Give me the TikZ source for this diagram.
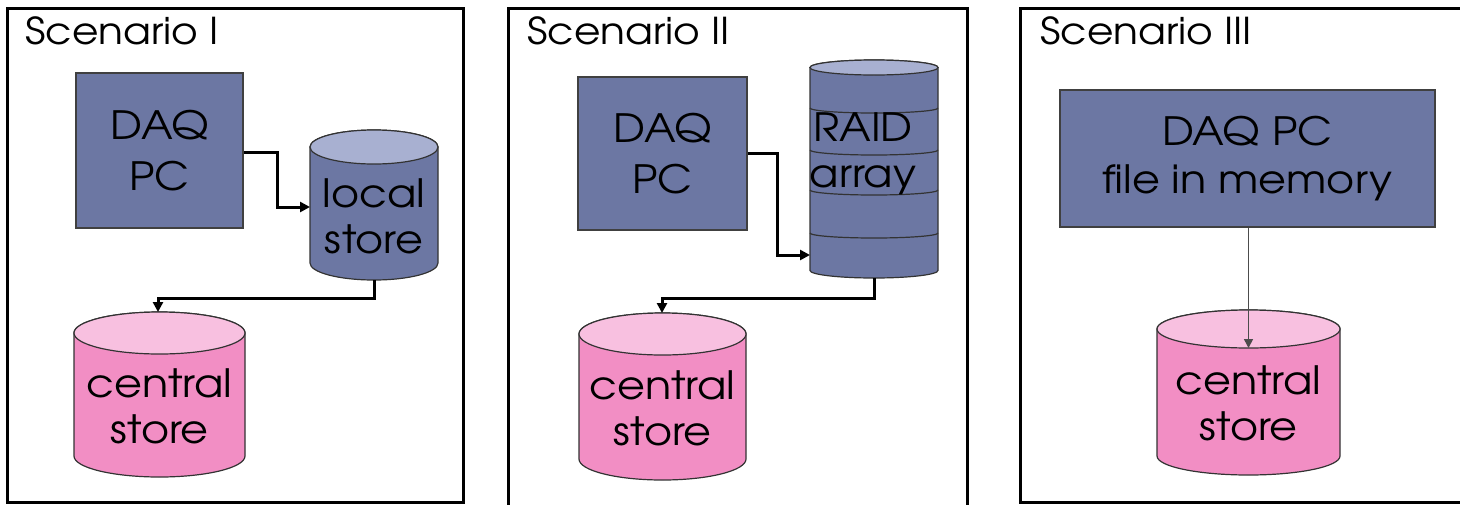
\documentclass[tikz,border=0pt]{standalone}
\usepackage{fontspec}
\setmainfont{TeX Gyre Adventor}[FakeStretch=1.1]
\usetikzlibrary{arrows.meta}
\definecolor{daqblue}{RGB}{108,119,163}
\definecolor{daqtop}{RGB}{168,176,209}
\definecolor{storepink}{RGB}{242,142,196}
\definecolor{storetop}{RGB}{248,192,224}
% #1 node, #2 half width, #3 end radius, #4 body colour, #5 end colour
\newcommand\drum[5]{%
  \draw[fill=#4,draw=black!80,line width=0.6pt]
    ([yshift=-#3]#1.north west) -- ([yshift=#3]#1.south west)
    arc[start angle=180,end angle=360,x radius=#2,y radius=#3]
    -- ([yshift=-#3]#1.north east)
    arc[start angle=0,end angle=180,x radius=#2,y radius=#3] -- cycle;
  \draw[fill=#5,draw=black!80,line width=0.6pt]
    ([yshift=-#3]#1.north) ellipse[x radius=#2,y radius=#3];}
\tikzset{x=0.5pt,y=-0.5pt,
    panel/.style={draw,line width=1.5pt},
    title/.style={anchor=base west,inner sep=0pt,font=\fontsize{18.5}{23}\selectfont},
    daqbox/.style={draw=black!75,fill=daqblue,line width=0.6pt,align=center,
        font=\fontsize{19.5}{25.5}\selectfont},
    drumbox/.style={inner sep=0pt,outer sep=0pt},
    drumtext/.style={align=center,inner sep=0pt,font=\fontsize{19.5}{23}\selectfont},
    flow/.style={-{Triangle[length=5pt,width=5pt]},line width=1.5pt},
    thinflow/.style={-{Triangle[length=4.5pt,width=4.5pt]},line width=0.8pt,draw=black!70},
    }
\begin{document}
\begin{tikzpicture}
\useasboundingbox (0,0) rectangle (1460,504);
% frames
\draw[panel] (7,8) rectangle (463,502);
\draw[panel] (508,8) rectangle (967,515);
\draw[panel] (1020,8) rectangle (1475,502);
\node[title] (t1) at (25,44) {Scenario I};
\node[title] (t2) at (527,44) {Scenario II};
\node[title] (t3) at (1040,44) {Scenario III};

% scenario I
\node[daqbox,minimum width=83.5pt,minimum height=77.5pt] (daq1) at (159.5,150.5) {DAQ\\PC};
\node[drumbox,minimum width=64pt,minimum height=75pt] (local1) at (374,205) {};
\drum{local1}{32pt}{8.5pt}{daqblue}{daqtop}
\node[drumtext] (local1txt) at ([yshift=-5.5pt]local1.center) {local\\store};
\node[drumbox,minimum width=85.5pt,minimum height=82.5pt] (central1) at (159.5,394.5) {};
\drum{central1}{42.75pt}{10.5pt}{storepink}{storetop}
\node[drumtext] (central1txt) at ([yshift=-6pt]central1.center) {central\\store};
\draw[flow] (daq1.east |- 0,152) -| (277,207) -- (local1.west |- 0,207);
\draw[flow] (local1.south) |- (158,298) -- (central1.north -| 158,0);

% scenario II
\node[daqbox,minimum width=84.5pt,minimum height=76.5pt] (daq2) at (662.5,153.5) {DAQ\\PC};
\node[drumbox,minimum width=64pt,minimum height=109pt] (raid) at (874,169) {};
\drum{raid}{32pt}{3.75pt}{daqblue}{daqtop}
\foreach \y in {108,150,190,233}
    \draw[black!80,line width=0.6pt] (810,\y) arc[start angle=180,end angle=360,x radius=32pt,y radius=2.5pt];
\node[drumtext] (raidtxt) at (863,154) {RAID\\array};
\node[drumbox,minimum width=83.5pt,minimum height=83.5pt] (central2) at (662.5,396.5) {};
\drum{central2}{41.75pt}{10.5pt}{storepink}{storetop}
\node[drumtext] (central2txt) at ([yshift=-6pt]central2.center) {central\\store};
\draw[flow] (daq2.east |- 0,153) -| (777,255) -- (raid.west |- 0,255);
\draw[flow] (raid.south) |- (662,298) -- (central2.north -| 662,0);

% scenario III
\node[daqbox,minimum width=187.5pt,minimum height=68.5pt,font=\fontsize{19.5}{24}\selectfont] (daq3) at (1247.5,158.5) {DAQ PC\\file in memory};
\node[drumbox,minimum width=91.5pt,minimum height=82.5pt] (central3) at (1248.5,392.5) {};
\drum{central3}{45.75pt}{9.5pt}{storepink}{storetop}
\node[drumtext] (central3txt) at ([yshift=-5.5pt]central3.center) {central\\store};
\draw[thinflow] (daq3.south -| central3.north) -- ([yshift=-19pt]central3.north);
\end{tikzpicture}
\end{document}
